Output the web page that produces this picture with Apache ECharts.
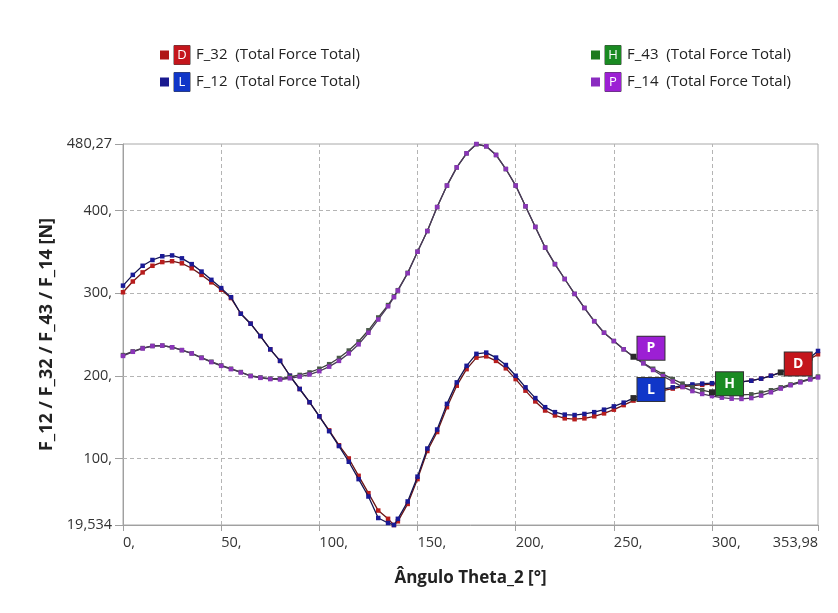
<!DOCTYPE html>
<html><head><meta charset="utf-8">
<script src="https://cdn.jsdelivr.net/npm/echarts@6/dist/echarts.min.js"></script>
<style>html,body{margin:0;padding:0;background:#fff}#c{width:838px;height:613px}</style>
</head><body><div id="c"></div>
<script>
// Angle samples (degrees)
const theta = [0,5,10,15,20,25,30,35,40,45,50,55,60,65,70,75,80,85,90,95,100,105,110,115,120,125,130,135,138,
  140,145,150,155,160,165,170,175,180,185,190,195,200,205,210,215,220,225,230,235,240,245,250,255,260,265,270,
  275,280,285,290,295,300,305,310,315,320,325,330,335,340,345,350,353.98];

const F_12 = [309,322,333,340,344.5,345.5,342,335,326,316,306,295,275,263,248,232,218,200,184,168,151,133,115,96,75,54,28,22,19.534,
  27,48,78,112,135,166,192,212,226.5,228,222,213,200,186,173,162,156,153,152.5,153.8,156,159,163,167.5,173,178,181.5,
  184,186,188,189.5,190.5,191,191.5,192,192.5,194,196.5,200,204,209,215,222,230];

const F_32 = [301,314,325,333,337.5,338.5,336,330,322,313,304,294,275,263,248,232,218,200,184,168,151,134,116,100,79,58,37,27,19.534,
  24,45,75,109,132,162,188,208,222,223.5,218,209,196,182,169,158,152,148.5,147.5,148.5,151,154.5,159,164.5,170,175,179,
  182,184.5,186.5,188,189,190,190.5,191.5,192.5,194,196.5,200,204,208.5,214,220.5,226];

const F_14 = [224,229,233,236,236.5,234.5,231,227,221.5,216.5,212,208,204,199.5,197.5,196,195.5,197,199,201.5,205.5,211,218,227,238,252,268,284,295,
  303,324,350,375,404,430,452,469,480.27,477.5,467,450,430,405,380,355,335,317,299,282,266,252,242,232,223,215,207,
  199.5,193,186.5,181.5,178,175.5,173.5,172.3,172,173,176,180,184.5,188.5,192,195.5,198];

const F_43 = [225,229.5,233.5,236,236.5,234.5,231,227,222,217,212.5,208.5,204.5,200,198,196.5,196.5,198.5,201,204,208.5,214,221.5,230.5,241.5,255,270.5,285.5,296,
  303.5,324.5,350,375,404,430,452,469,480,477.5,467,450,430,405,380,355,335,317,299,282,266,252,242,232,223,215.5,208.5,
  202,196,190.5,186,182.5,180,178.5,177.5,177,177.5,179.5,182.5,186,189.5,193,196.5,199];

const xTicks = [0,50,100,150,200,250,300,353.98];
const yTicks = [19.534,100,200,300,400,480.27];
const xGridValues = [50,100,150,200,250,300];
const yGridValues = [100,200,300,400];

const legendLeft = ['F_32','F_12'];
const legendRight = ['F_43','F_14'];
const badgeLetter = {F_32:'D', F_43:'H', F_12:'L', F_14:'P'};
const badgeIndex = {F_32:68, F_43:61, F_12:53, F_14:53};
const legendSuffix = '  (Total Force Total)';

const FONT = 'Open Sans';
const badgeColor = {F_32:'#c4161c', F_43:'#1a8a22', F_12:'#1036c8', F_14:'#9c1fd4'};
const legendSquare = {F_32:'#b01515', F_43:'#1e7a1e', F_12:'#1a1a90', F_14:'#8a2bc0'};
const lineColor = {F_32:'#6b1515', F_43:'#3c3c3c', F_12:'#141450', F_14:'#4a3a5a'};
const markColor = {F_32:'#b81d1d', F_43:'#4a5a4a', F_12:'#1a1a96', F_14:'#8a35b8'};
const dataMap = {F_32, F_43, F_12, F_14};

const fmt = v => { const s = String(v); return s.indexOf('.') >= 0 ? s.replace('.', ',') : s + ','; };

function mkSeries(name, z) {
  const d = dataMap[name];
  const idx = badgeIndex[name];
  return {
    name, type: 'line', z,
    data: theta.map((t, i) => [t, d[i]]),
    symbol: 'rect', symbolSize: 4.5, showAllSymbol: true,
    lineStyle: {color: lineColor[name], width: 1.3},
    itemStyle: {color: markColor[name]},
    emphasis: {disabled: true},
    markPoint: {
      silent: true, symbol: 'rect', symbolSize: 6, z: 10,
      itemStyle: {color: '#2a2a2a'},
      data: [{
        coord: [theta[idx], d[idx]],
        label: {
          show: true, position: [7, -17],
          formatter: '{t|' + badgeLetter[name] + '}',
          backgroundColor: badgeColor[name], padding: [3, 6],
          borderColor: '#333', borderWidth: 1,
          rich: {t: {width: 15, height: 17, lineHeight: 17, align: 'center', color: '#fff',
                     fontWeight: 'bold', fontSize: 14, fontFamily: FONT}}
        }
      }]
    }
  };
}

const legendRich = {sp: {width: 6}};
Object.keys(badgeLetter).forEach(n => {
  legendRich[badgeLetter[n]] = {backgroundColor: badgeColor[n], color: '#fff', width: 16, height: 19,
    lineHeight: 19, align: 'center', fontSize: 13, fontFamily: FONT, borderColor: '#444', borderWidth: 0.5};
});
function mkLegend(names, left) {
  return {
    orient: 'vertical', left, top: 45, padding: 0, itemGap: 7,
    icon: 'rect', itemWidth: 9, itemHeight: 9, selectedMode: false,
    data: names.map(n => ({name: n, itemStyle: {color: legendSquare[n]}})),
    formatter: n => '{' + badgeLetter[n] + '|' + badgeLetter[n] + '}{sp|}' + n + legendSuffix,
    textStyle: {fontFamily: FONT, fontSize: 15, color: '#222', rich: legendRich}
  };
}

const chart = echarts.init(document.getElementById('c'), null, {renderer: 'canvas'});
chart.setOption({
  animation: false,
  backgroundColor: '#fff',
  grid: {left: 123, right: 20, top: 144, bottom: 88, show: true, borderColor: '#a8a8a8', borderWidth: 1},
  legend: [mkLegend(legendLeft, 160), mkLegend(legendRight, 591)],
  xAxis: {
    type: 'value', min: 0, max: 353.98,
    name: 'Ângulo Theta_2 [°]', nameLocation: 'middle', nameGap: 45,
    nameTextStyle: {fontFamily: FONT, fontWeight: 'bold', fontSize: 17, color: '#222'},
    axisLine: {show: true, lineStyle: {color: '#a0a0a0'}},
    axisTick: {show: true, customValues: xTicks, length: 6, lineStyle: {color: '#a0a0a0'}},
    axisLabel: {customValues: xTicks, formatter: fmt, align: 'left', alignMaxLabel: 'right', margin: 10,
      color: '#333', fontSize: 14.5, fontFamily: FONT},
    splitLine: {show: false}
  },
  yAxis: {
    type: 'value', min: 19.534, max: 480.27,
    name: 'F_12 / F_32 / F_43 / F_14 [N]', nameLocation: 'middle', nameGap: 62,
    nameTextStyle: {fontFamily: FONT, fontWeight: 'bold', fontSize: 18, color: '#222'},
    axisLine: {show: true, lineStyle: {color: '#a0a0a0'}},
    axisTick: {show: true, customValues: yTicks, length: 8, lineStyle: {color: '#a0a0a0'}},
    axisLabel: {customValues: yTicks, formatter: fmt, margin: 11, color: '#333', fontSize: 14.5, fontFamily: FONT},
    splitLine: {show: false}
  },
  series: [
    {type: 'line', name: 'grid', data: [], z: 1, silent: true,
     markLine: {silent: true, z: 1, symbol: 'none', label: {show: false}, animation: false,
       lineStyle: {type: [4, 3], color: '#b4b4b4', width: 1},
       data: yGridValues.map(v => ({yAxis: v})).concat(xGridValues.map(v => ({xAxis: v})))}},
    mkSeries('F_32', 2),
    mkSeries('F_12', 3),
    mkSeries('F_43', 4),
    mkSeries('F_14', 5)
  ]
});
</script>
</body></html>
